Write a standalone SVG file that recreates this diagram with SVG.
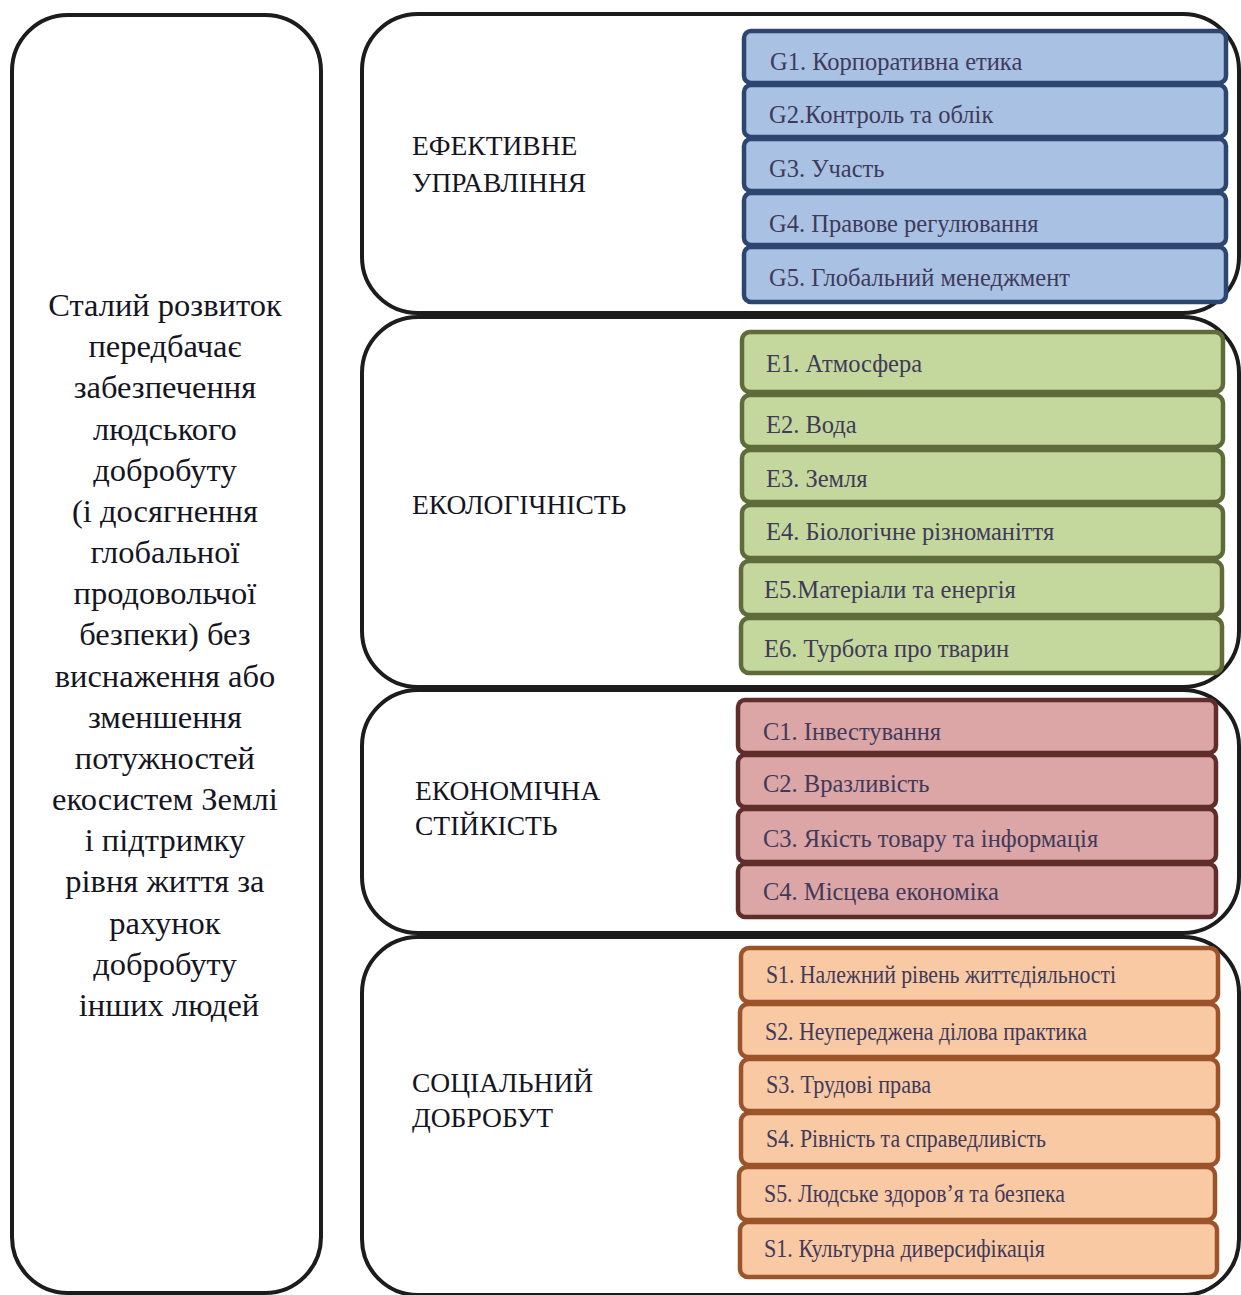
<svg xmlns="http://www.w3.org/2000/svg" width="1241" height="1295" viewBox="0 0 1241 1295">
<style>
.frame{fill:#fff;stroke:#1c1c1c;stroke-width:4}
.it{stroke-width:4.5}
.g{fill:#a9c1e2;stroke:#2d4670}
.e{fill:#c4d79c;stroke:#5f6b3b}
.c{fill:#dca5a6;stroke:#5f2e2b}
.s{fill:#f8c9a3;stroke:#9b5329}
.t{font-family:"Liberation Serif","Times New Roman",serif;font-size:24.5px;fill:#3f3a5a}
.ts{font-family:"Liberation Serif","Times New Roman",serif;font-size:24.5px;fill:#3f3a5a}
.lbl{font-family:"Liberation Serif","Times New Roman",serif;font-size:27.5px;fill:#15151f}
.main{font-family:"Liberation Serif","Times New Roman",serif;font-size:32.5px;fill:#15151f;text-anchor:middle}
</style>
<rect width="1241" height="1295" fill="#fff"/>
<g id="main-node">
<rect class="frame" x="12" y="15" width="309" height="1278" rx="56"/>
<text class="main">
<tspan x="169" y="316">Сталий розвиток</tspan>
<tspan x="169" y="357">передбачає</tspan>
<tspan x="169" y="398">забезпечення</tspan>
<tspan x="169" y="440">людського</tspan>
<tspan x="169" y="481">добробуту</tspan>
<tspan x="169" y="522">(і досягнення</tspan>
<tspan x="169" y="563">глобальної</tspan>
<tspan x="169" y="604">продовольчої</tspan>
<tspan x="169" y="645">безпеки) без</tspan>
<tspan x="169" y="687">виснаження або</tspan>
<tspan x="169" y="728">зменшення</tspan>
<tspan x="169" y="769">потужностей</tspan>
<tspan x="169" y="810">екосистем Землі</tspan>
<tspan x="169" y="851">і підтримку</tspan>
<tspan x="169" y="892">рівня життя за</tspan>
<tspan x="169" y="934">рахунок</tspan>
<tspan x="169" y="975">добробуту</tspan>
<tspan x="169" y="1016">інших людей</tspan>
</text>
</g>
<g id="connectors"></g>
<g id="group-governance">
<rect class="frame" x="362" y="14" width="877" height="299" rx="56"/>
<text class="lbl"><tspan x="412" y="155">ЕФЕКТИВНЕ</tspan><tspan x="412" y="192">УПРАВЛІННЯ</tspan></text>
</g>
<g id="group-ecology">
<rect class="frame" x="362" y="317" width="877" height="370" rx="56"/>
<text class="lbl" x="412" y="514">ЕКОЛОГІЧНІСТЬ</text>
</g>
<g id="group-economy">
<rect class="frame" x="362" y="690" width="877" height="243" rx="56"/>
<text class="lbl"><tspan x="415" y="800">ЕКОНОМІЧНА</tspan><tspan x="415" y="835">СТІЙКІСТЬ</tspan></text>
</g>
<g id="group-social">
<rect class="frame" x="362" y="937" width="877" height="358" rx="56"/>
<text class="lbl"><tspan x="412" y="1092">СОЦІАЛЬНИЙ</tspan><tspan x="412" y="1127">ДОБРОБУТ</tspan></text>
</g>
<g id="G1"><rect class="it g" x="744" y="31" width="482" height="52" rx="7"/><text class="t" x="770" y="70">G1. Корпоративна етика</text></g>
<g id="G2"><rect class="it g" x="744" y="85" width="482" height="52" rx="7"/><text class="t" x="769" y="123">G2.Контроль та облік</text></g>
<g id="G3"><rect class="it g" x="744" y="139" width="482" height="52" rx="7"/><text class="t" x="769" y="177">G3. Участь</text></g>
<g id="G4"><rect class="it g" x="744" y="193" width="482" height="52" rx="7"/><text class="t" x="769" y="232">G4. Правове регулювання</text></g>
<g id="G5"><rect class="it g" x="744" y="247" width="482" height="55" rx="7"/><text class="t" x="769" y="286">G5. Глобальний менеджмент</text></g>
<g id="E1"><rect class="it e" x="742" y="332" width="481" height="60" rx="8"/><text class="t" x="766" y="372">E1. Атмосфера</text></g>
<g id="E2"><rect class="it e" x="742" y="395" width="481" height="52" rx="8"/><text class="t" x="766" y="433">E2. Вода</text></g>
<g id="E3"><rect class="it e" x="742" y="450" width="481" height="52" rx="8"/><text class="t" x="766" y="487">E3. Земля</text></g>
<g id="E4"><rect class="it e" x="742" y="505" width="481" height="53" rx="8"/><text class="t" x="766" y="540">E4. Біологічне різноманіття</text></g>
<g id="E5"><rect class="it e" x="741" y="561" width="481" height="54" rx="8"/><text class="t" x="764" y="598">E5.Матеріали та енергія</text></g>
<g id="E6"><rect class="it e" x="741" y="618" width="481" height="55" rx="8"/><text class="t" x="764" y="657">E6. Турбота про тварин</text></g>
<g id="C1"><rect class="it c" x="738" y="700" width="478" height="53" rx="7"/><text class="t" x="763" y="740">C1. Інвестування</text></g>
<g id="C2"><rect class="it c" x="738" y="755" width="478" height="52" rx="7"/><text class="t" x="763" y="792">C2. Вразливість</text></g>
<g id="C3"><rect class="it c" x="738" y="809" width="478" height="53" rx="7"/><text class="t" x="763" y="847">C3. Якість товару та інформація</text></g>
<g id="C4"><rect class="it c" x="738" y="864" width="478" height="53" rx="7"/><text class="t" x="763" y="900">C4. Місцева економіка</text></g>
<g id="S1"><rect class="it s" x="741" y="948" width="477" height="54" rx="8"/><text class="ts" x="766" y="983" textLength="350" lengthAdjust="spacingAndGlyphs">S1. Належний рівень життєдіяльності</text></g>
<g id="S2"><rect class="it s" x="740" y="1004" width="478" height="53" rx="8"/><text class="ts" x="765" y="1040" textLength="322" lengthAdjust="spacingAndGlyphs">S2. Неупереджена ділова практика</text></g>
<g id="S3"><rect class="it s" x="741" y="1059" width="477" height="52" rx="8"/><text class="ts" x="766" y="1093" textLength="165" lengthAdjust="spacingAndGlyphs">S3. Трудові права</text></g>
<g id="S4"><rect class="it s" x="741" y="1113" width="477" height="52" rx="8"/><text class="ts" x="766" y="1147" textLength="280" lengthAdjust="spacingAndGlyphs">S4. Рівність та справедливість</text></g>
<g id="S5"><rect class="it s" x="739" y="1167" width="476" height="53" rx="8"/><text class="ts" x="764" y="1202" textLength="301" lengthAdjust="spacingAndGlyphs">S5. Людське здоров’я та безпека</text></g>
<g id="S6"><rect class="it s" x="740" y="1222" width="477" height="55" rx="8"/><text class="ts" x="764" y="1257" textLength="281" lengthAdjust="spacingAndGlyphs">S1. Культурна диверсифікація</text></g>
</svg>
